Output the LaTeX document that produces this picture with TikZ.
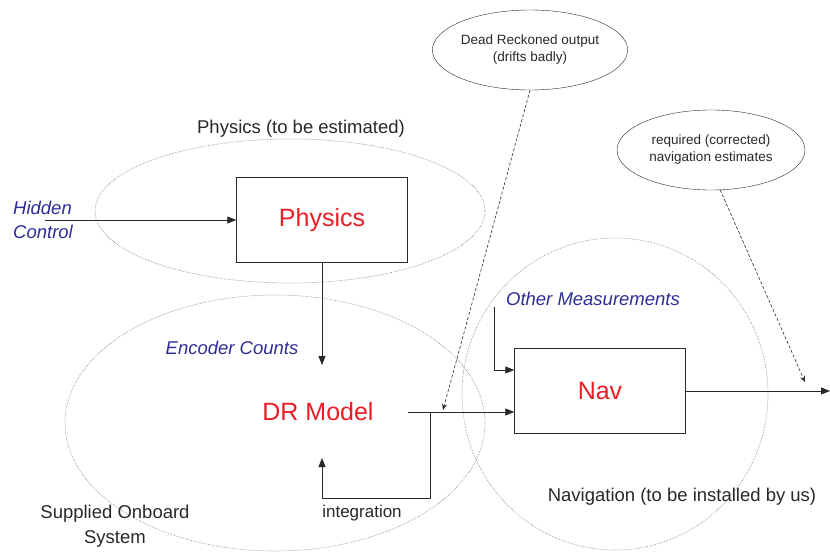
\documentclass[tikz,border=0pt]{standalone}
\usepackage{fontspec}
\setmainfont{Liberation Sans}
\usetikzlibrary{shapes.geometric, arrows.meta, positioning, calc}
\definecolor{labelblue}{RGB}{45,45,150}
\definecolor{blockred}{RGB}{236,28,36}
\definecolor{inkgray}{RGB}{40,40,40}

\begin{document}
\begin{tikzpicture}[x=1pt, y=-1pt,
    block/.style={draw, inkgray, minimum width=171pt, minimum height=85pt, inner sep=0pt,
      text=blockred, font=\fontsize{25}{29}\selectfont},
    bigtext/.style={text=blockred, font=\fontsize{25}{29}\selectfont},
    signal/.style={text=labelblue, font=\fontsize{18.5}{24.5}\selectfont\itshape, align=left},
    plain/.style={text=inkgray, font=\fontsize{18.5}{24.5}\selectfont, align=center},
    callout/.style={ellipse, draw, inkgray, inner sep=0pt, text=inkgray,
      font=\fontsize{13.5}{17}\selectfont, align=center},
    region/.style={draw, gray, densely dotted, line width=0.6pt},
    flow/.style={draw, inkgray, line width=0.8pt, -{Triangle[length=9pt, width=7pt]}},
    note/.style={draw, inkgray, densely dashed, line width=0.6pt, -{Stealth[length=6pt, width=5pt]}}]
    \useasboundingbox (0,0) rectangle (830,554);

    % Regions
    \draw[region] (290,211) ellipse [x radius=195, y radius=72];
    \draw[region] (275,423) ellipse [x radius=210, y radius=128];
    \draw[region] (615,394) ellipse [x radius=153, y radius=156];

    % Region labels
    \node[plain] (physlbl) at (301,129) {Physics (to be estimated)};
    \node[plain] (navlbl) at (682,497) {Navigation (to be installed by us)};
    \node[plain] (onboard) at (115,526) {Supplied Onboard\\System};

    % Blocks
    \node[block] (phys) at (322,220) {Physics};
    \node[bigtext] (dr) at (318,412) {DR Model};
    \node[block] (nav) at (600,391) {Nav};

    % Signal labels
    \node[signal] (hidden) at (43,220) {Hidden\\Control};
    \node[signal] (enc) at (232,348) {Encoder Counts};
    \node[signal] (other) at (593,299) {Other Measurements};
    \node[plain, font=\fontsize{17}{20}\selectfont] (intg) at (362,513) {integration};

    % Callouts
    \node[callout, minimum width=186pt, minimum height=80pt] (dro) at (530,50)
        {Dead Reckoned output\\(drifts badly)};
    \node[callout, minimum width=188pt, minimum height=80pt] (req) at (711,150)
        {required (corrected)\\navigation estimates};

    % Free ends
    \coordinate (hc) at (45,220);
    \coordinate (drin) at (322,365);
    \coordinate (drout) at (408,412);
    \coordinate (split) at (430,412);
    \coordinate (intgbend) at (322,498);
    \coordinate (intgin) at (322,458);
    \coordinate (om) at (494,307);
    \coordinate (navout) at (830,391);
    \coordinate (droend) at (443,410);
    \coordinate (reqend) at (805,382);

    % Connectors
    \draw[flow] (hc) -- (phys.west);
    \draw[flow] (phys.south) -- (drin);
    \draw[flow] (drout) -- (drout -| nav.west);
    \draw[flow] (split) |- (intgbend) -- (intgin);
    \draw[flow] (om) |- ($(nav.west)+(0,-21)$);
    \draw[flow] (nav.east) -- (navout);

    % Notes
    \draw[note] (dro.south) -- (droend);
    \draw[note] (req.-77) -- (reqend);
\end{tikzpicture}
\end{document}
